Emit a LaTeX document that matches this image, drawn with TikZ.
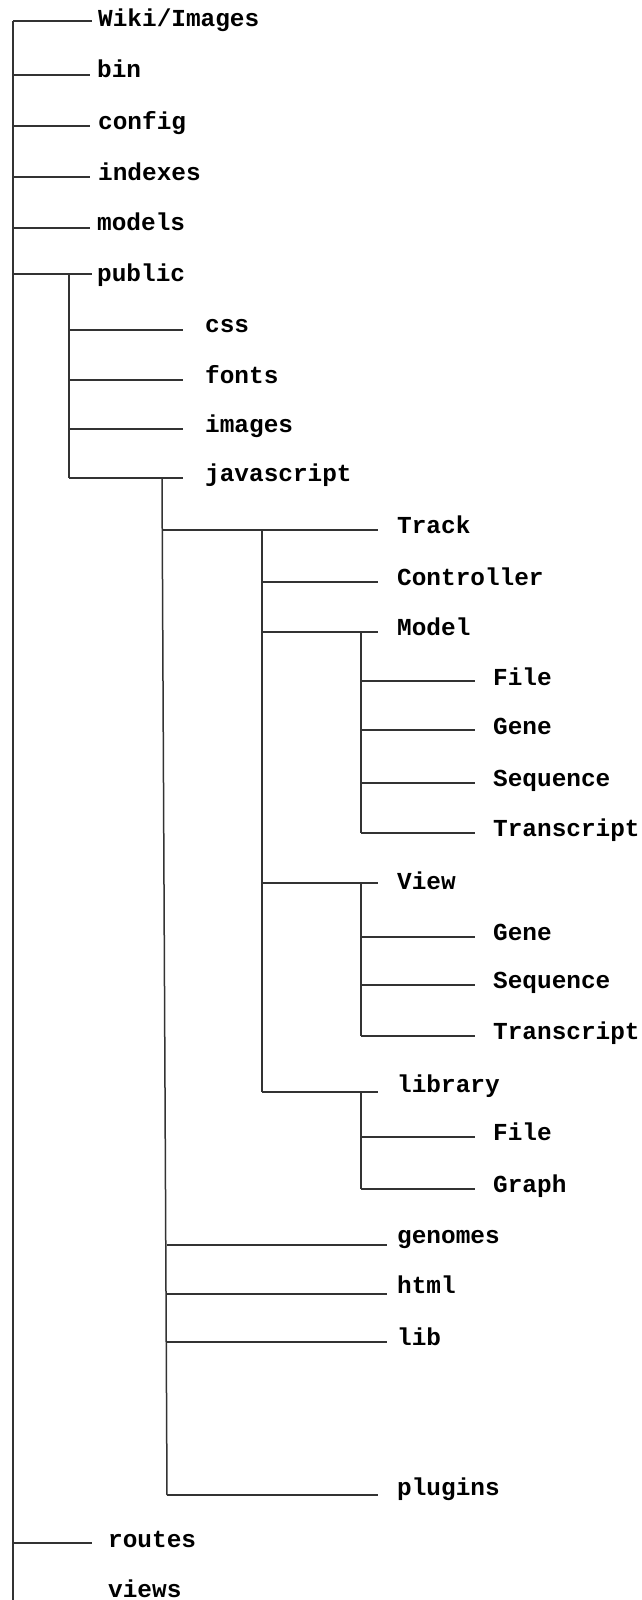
\documentclass[tikz,border=0pt]{standalone}
\usepackage{fontspec}
\newfontfamily\itemfont{Liberation Mono}
\begin{document}
\begin{tikzpicture}[x=1pt,y=-1pt,
  item/.style={font=\itemfont\bfseries\fontsize{24.4}{25}\selectfont, anchor=base west, inner sep=0pt},
  branch/.style={line width=1.5pt, draw=black!80}]
\useasboundingbox (0,0) rectangle (642,1600);

% ---- trunks ----
\coordinate (root-top) at (13,21);
\coordinate (root-bot) at (13,1600);
\coordinate (pub-top) at (69,274);
\coordinate (pub-bot) at (69,478);
\coordinate (js-top) at (162,478);
\coordinate (js-bot) at (167,1495);
\coordinate (trk-top) at (262,530);
\coordinate (trk-bot) at (262,1092);
\coordinate (mod-top) at (361,632);
\coordinate (mod-bot) at (361,833);
\coordinate (view-top) at (361,883);
\coordinate (view-bot) at (361,1036);
\coordinate (lib-top) at (361,1092);
\coordinate (lib-bot) at (361,1189);

\draw[branch] (root-top) -- (root-bot);
\draw[branch] (pub-top) -- (pub-bot);
\draw[branch] (js-top) -- (js-bot);
\draw[branch] (trk-top) -- (trk-bot);
\draw[branch] (mod-top) -- (mod-bot);
\draw[branch] (view-top) -- (view-bot);
\draw[branch] (lib-top) -- (lib-bot);

% ---- top level ----
\node[item] (wiki) at (98,27) {Wiki/Images};
\node[item] (bin) at (97,78) {bin};
\node[item] (config) at (98,129) {config};
\node[item] (indexes) at (98,180) {indexes};
\node[item] (models) at (97,230) {models};
\node[item] (public) at (97,281) {public};
\node[item] (routes) at (108,1547) {routes};
\node[item] (views) at (108,1597) {views};

\coordinate (wiki-l) at (92,21);
\coordinate (bin-l) at (90,75);
\coordinate (config-l) at (90,126);
\coordinate (indexes-l) at (90,177);
\coordinate (models-l) at (90,228);
\coordinate (public-l) at (92,274);
\coordinate (routes-l) at (92,1543);
\foreach \n in {wiki,bin,config,indexes,models,public,routes}
  \draw[branch] (root-top |- \n-l) -- (\n-l);

% ---- public ----
\node[item] (css) at (205,332) {css};
\node[item] (fonts) at (205,383) {fonts};
\node[item] (images) at (205,432) {images};
\node[item] (javascript) at (205,481) {javascript};
\coordinate (css-l) at (183,330);
\coordinate (fonts-l) at (183,380);
\coordinate (images-l) at (183,429);
\coordinate (javascript-l) at (183,478);
\foreach \n in {css,fonts,images,javascript}
  \draw[branch] (pub-top |- \n-l) -- (\n-l);

% ---- javascript ----
\node[item] (track) at (397,533) {Track};
\node[item] (controller) at (397,585) {Controller};
\node[item] (model) at (397,635) {Model};
\node[item] (view) at (397,889) {View};
\node[item] (library) at (397,1092) {library};
\coordinate (track-l) at (378,530);
\coordinate (controller-l) at (378,582);
\coordinate (model-l) at (378,632);
\coordinate (view-l) at (378,883);
\coordinate (library-l) at (378,1092);
\draw[branch] (js-top |- track-l) -- (track-l);
\foreach \n in {controller,model,view,library}
  \draw[branch] (trk-top |- \n-l) -- (\n-l);

\node[item] (genomes) at (397,1243) {genomes};
\node[item] (html) at (397,1293) {html};
\node[item] (lib) at (397,1345) {lib};
\node[item] (plugins) at (397,1495) {plugins};
\coordinate (genomes-l) at (387,1245);
\coordinate (html-l) at (387,1294);
\coordinate (lib-l) at (387,1342);
\coordinate (plugins-l) at (378,1495);
\foreach \n in {genomes,html,lib,plugins}
  \draw[branch] (js-bot |- \n-l) -- (\n-l);

% ---- Model ----
\node[item] (m-file) at (493,685) {File};
\node[item] (m-gene) at (493,734) {Gene};
\node[item] (m-seq) at (493,786) {Sequence};
\node[item] (m-tr) at (493,836) {Transcript};
\coordinate (m-file-l) at (475,681);
\coordinate (m-gene-l) at (475,730);
\coordinate (m-seq-l) at (475,783);
\coordinate (m-tr-l) at (475,833);
\foreach \n in {m-file,m-gene,m-seq,m-tr}
  \draw[branch] (mod-top |- \n-l) -- (\n-l);

% ---- View ----
\node[item] (v-gene) at (493,940) {Gene};
\node[item] (v-seq) at (493,988) {Sequence};
\node[item] (v-tr) at (493,1039) {Transcript};
\coordinate (v-gene-l) at (475,937);
\coordinate (v-seq-l) at (475,985);
\coordinate (v-tr-l) at (475,1036);
\foreach \n in {v-gene,v-seq,v-tr}
  \draw[branch] (view-top |- \n-l) -- (\n-l);

% ---- library ----
\node[item] (l-file) at (493,1140) {File};
\node[item] (l-graph) at (493,1192) {Graph};
\coordinate (l-file-l) at (475,1137);
\coordinate (l-graph-l) at (475,1189);
\foreach \n in {l-file,l-graph}
  \draw[branch] (lib-top |- \n-l) -- (\n-l);
\end{tikzpicture}
\end{document}
